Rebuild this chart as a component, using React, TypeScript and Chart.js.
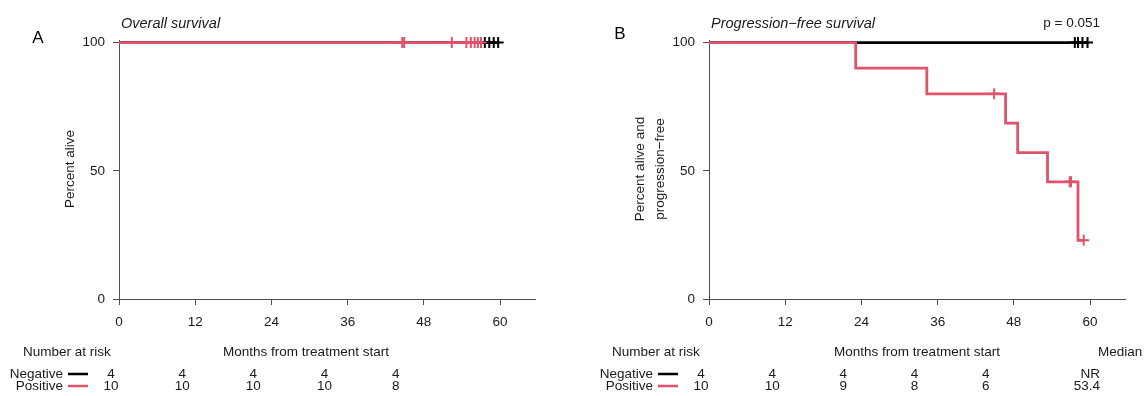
import React, { useEffect, useRef } from "react";
import { Chart, registerables } from "chart.js";

Chart.register(...registerables);

const RED = "#DF536B";
const BLACK = "#000000";
const AXIS = "#4d4d4d";
const TEXT = "#1a1a1a";
const FONT = '"Liberation Sans", Arial, Helvetica, sans-serif';

// ticks
const xTickValues = [0, 12, 24, 36, 48, 60];
const yTickValues = [0, 50, 100];
const riskTimes = [0, 12, 24, 36, 48];

// Panel A: overall survival
const osPosTimes = [0, 57.0];
const osPosSurv = [100, 100];
const osPosCensorTimes = [44.6, 44.9, 52.4, 54.7, 55.4, 56.0, 56.5, 57.0];
const osPosCensorSurv = [100, 100, 100, 100, 100, 100, 100, 100];
const osNegTimes = [0, 59.8];
const osNegSurv = [100, 100];
const osNegCensorTimes = [57.6, 58.3, 59.0, 59.7];
const osNegCensorSurv = [100, 100, 100, 100];
const osRiskNeg = [4, 4, 4, 4, 4];
const osRiskPos = [10, 10, 10, 10, 8];

// Panel B: progression-free survival
const pfsPosTimes = [0, 23.1, 34.3, 46.7, 48.6, 53.3, 58.1, 59.0];
const pfsPosSurv = [100, 90, 80, 68.6, 57.1, 45.7, 22.9, 22.9];
const pfsPosCensorTimes = [44.9, 56.8, 57.0, 59.0];
const pfsPosCensorSurv = [80, 45.7, 45.7, 22.9];
const pfsNegTimes = [0, 59.8];
const pfsNegSurv = [100, 100];
const pfsNegCensorTimes = [57.6, 58.1, 58.8, 59.6];
const pfsNegCensorSurv = [100, 100, 100, 100];
const pfsRiskNeg = [4, 4, 4, 4, 4];
const pfsRiskPos = [10, 10, 9, 8, 6];
const pfsMedians = ["NR", "53.4"];
const pfsPValue = "p = 0.051";

const groupNames = ["Negative", "Positive"];

type PanelCfg = {
  letter: string;
  letterX: number;
  title: string;
  yTitle: string[];
  yTitleX: number[];
  riskNeg: number[];
  riskPos: number[];
  medians?: string[];
  pValue?: string;
  axisLeft: number;
  padRight: number;
  xTitleX: number;
  riskHeaderX: number;
};

const pts = (xs: number[], ys: number[]) => xs.map((x, i) => ({ x, y: ys[i] }));

function makeChart(canvas: HTMLCanvasElement, cfg: PanelCfg, sets: any) {
  const textPlugin = {
    id: "kmText" + cfg.letter,
    afterDraw(chart: any) {
      const ctx = chart.ctx;
      const xs = chart.scales.x;
      const left = chart.chartArea.left;
      ctx.save();
      // panel letter
      ctx.font = `17px ${FONT}`;
      ctx.textAlign = "center";
      ctx.textBaseline = "middle";
      ctx.fillStyle = "#000";
      ctx.fillText(cfg.letter, cfg.letterX, cfg.letter === "A" ? 38 : 34);
      ctx.fillStyle = TEXT;
      // title
      ctx.font = `italic 14.5px ${FONT}`;
      ctx.textAlign = "left";
      ctx.textBaseline = "alphabetic";
      ctx.fillText(cfg.title, left + 2, 28);
      if (cfg.pValue) {
        ctx.font = `13.5px ${FONT}`;
        ctx.textAlign = "right";
        ctx.fillText(cfg.pValue, 526, 27);
      }
      // y title
      ctx.font = `13.5px ${FONT}`;
      cfg.yTitle.forEach((t, i) => {
        ctx.save();
        ctx.translate(cfg.yTitleX[i], 169);
        ctx.rotate(-Math.PI / 2);
        ctx.textAlign = "center";
        ctx.textBaseline = "middle";
        ctx.fillText(t, 0, 0);
        ctx.restore();
      });
      // x title and risk header
      ctx.textBaseline = "middle";
      ctx.textAlign = "center";
      ctx.fillText("Months from treatment start", cfg.xTitleX, 352);
      ctx.textAlign = "left";
      ctx.fillText("Number at risk", cfg.riskHeaderX, 352);
      if (cfg.medians) {
        ctx.fillText("Median", 524, 352);
      }
      // risk rows
      const rowsY = [374, 386];
      const rows = [cfg.riskNeg, cfg.riskPos];
      const colors = [BLACK, RED];
      const px0 = xs.getPixelForValue(0);
      rows.forEach((row, r) => {
        const y = rowsY[r];
        ctx.fillStyle = TEXT;
        ctx.textAlign = "right";
        ctx.fillText(groupNames[r], left - 56, y);
        ctx.strokeStyle = colors[r];
        ctx.lineWidth = 2.5;
        ctx.beginPath();
        ctx.moveTo(left - 51, y);
        ctx.lineTo(left - 31, y);
        ctx.stroke();
        ctx.textAlign = "center";
        row.forEach((v, i) => {
          const px = px0 - 8 + (xs.getPixelForValue(riskTimes[i]) - px0) * 0.934;
          ctx.fillText(String(v), px, y);
        });
        if (cfg.medians) {
          ctx.textAlign = "right";
          ctx.fillText(cfg.medians[r], 526, y);
        }
      });
      ctx.restore();
    },
  };

  const lineDs = (data: any, color: string) => ({
    type: "line",
    data,
    borderColor: color,
    borderWidth: 2.8,
    stepped: true,
    pointRadius: 0,
    fill: false,
    clip: false,
  });
  const censorDs = (data: any, color: string) => ({
    type: "line",
    data,
    showLine: false,
    pointStyle: "cross",
    pointRadius: 5.5,
    pointBorderWidth: 2,
    pointBorderColor: color,
    pointBackgroundColor: color,
    borderColor: color,
    clip: false,
  });

  return new Chart(canvas, {
    type: "line",
    data: {
      datasets: [
        lineDs(sets.pos, RED),
        censorDs(sets.posC, RED),
        lineDs(sets.neg, BLACK),
        censorDs(sets.negC, BLACK),
      ] as any,
    },
    options: {
      responsive: false,
      animation: false,
      devicePixelRatio: 1,
      layout: { padding: { left: 0, right: cfg.padRight, top: 40, bottom: 0 } },
      plugins: { legend: { display: false }, tooltip: { enabled: false } },
      events: [],
      scales: {
        x: {
          type: "linear",
          min: 0,
          max: 65.5,
          afterBuildTicks: (s: any) => {
            s.ticks = xTickValues.map((v) => ({ value: v }));
          },
          afterFit: (s: any) => {
            s.height = 97;
          },
          grid: { drawOnChartArea: false, drawTicks: true, tickLength: 6, color: AXIS, lineWidth: 1 },
          border: { display: true, color: AXIS, width: 1 },
          ticks: { color: TEXT, font: { family: FONT, size: 13.5 }, padding: 9, maxRotation: 0, autoSkip: false },
        },
        y: {
          type: "linear",
          min: 0,
          max: 101,
          afterBuildTicks: (s: any) => {
            s.ticks = yTickValues.map((v) => ({ value: v }));
          },
          afterFit: (s: any) => {
            s.width = cfg.axisLeft;
          },
          grid: { drawOnChartArea: false, drawTicks: true, tickLength: 6, color: AXIS, lineWidth: 1 },
          border: { display: true, color: AXIS, width: 1 },
          ticks: { color: TEXT, font: { family: FONT, size: 13.5 }, padding: 8, autoSkip: false },
        },
      },
    } as any,
    plugins: [textPlugin],
  });
}

const cfgA: PanelCfg = {
  letter: "A",
  letterX: 38,
  title: "Overall survival",
  yTitle: ["Percent alive"],
  yTitleX: [70],
  riskNeg: osRiskNeg,
  riskPos: osRiskPos,
  axisLeft: 119,
  padRight: 39,
  xTitleX: 306,
  riskHeaderX: 23,
};

const cfgB: PanelCfg = {
  letter: "B",
  letterX: 46,
  title: "Progression\u2212free survival",
  yTitle: ["Percent alive and", "progression\u2212free"],
  yTitleX: [66, 86],
  riskNeg: pfsRiskNeg,
  riskPos: pfsRiskPos,
  medians: pfsMedians,
  pValue: pfsPValue,
  axisLeft: 135,
  padRight: 23,
  xTitleX: 343,
  riskHeaderX: 38,
};

export default function App() {
  const refA = useRef<HTMLCanvasElement>(null);
  const refB = useRef<HTMLCanvasElement>(null);
  useEffect(() => {
    const a = makeChart(refA.current!, cfgA, {
      pos: pts(osPosTimes, osPosSurv),
      posC: pts(osPosCensorTimes, osPosCensorSurv),
      neg: pts(osNegTimes, osNegSurv),
      negC: pts(osNegCensorTimes, osNegCensorSurv),
    });
    const b = makeChart(refB.current!, cfgB, {
      pos: pts(pfsPosTimes, pfsPosSurv),
      posC: pts(pfsPosCensorTimes, pfsPosCensorSurv),
      neg: pts(pfsNegTimes, pfsNegSurv),
      negC: pts(pfsNegCensorTimes, pfsNegCensorSurv),
    });
    return () => {
      a.destroy();
      b.destroy();
    };
  }, []);
  return (
    <div style={{ position: "absolute", left: 0, top: 0, width: 1148, height: 396, background: "#fff", display: "flex" }}>
      <canvas ref={refA} width={574} height={396} style={{ display: "block", width: 574, height: 396 }} />
      <canvas ref={refB} width={574} height={396} style={{ display: "block", width: 574, height: 396 }} />
    </div>
  );
}
